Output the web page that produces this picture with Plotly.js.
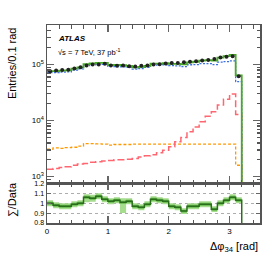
<!DOCTYPE html>
<html><head><meta charset="utf-8">
<script src="https://cdn.plot.ly/plotly-3.0.1.min.js"></script>
<style>html,body{margin:0;padding:0;background:#fff}#chart{width:277px;height:263px}</style>
</head><body><div id="chart"></div>
<script>
const binLow = [0,0.1,0.2,0.3,0.4,0.5,0.6,0.7,0.8,0.9,1.0,1.1,1.2,1.3,1.4,1.5,1.6,1.7,1.8,1.9,2.0,2.1,2.2,2.3,2.4,2.5,2.6,2.7,2.8,2.9,3.0,3.1];
const binWidth = 0.1;
const dataVals = [7.6e4,7.8e4,8.0e4,8.1e4,8.5e4,8.9e4,9.6e4,1.0e5,1.0e5,1.03e5,9.6e4,9.5e4,9.6e4,9.3e4,9.2e4,9.5e4,9.6e4,1.0e5,1.01e5,1.04e5,1.06e5,1.07e5,1.1e5,1.12e5,1.15e5,1.18e5,1.21e5,1.26e5,1.33e5,1.37e5,1.41e5,6.2e4];
const sigmaVals = [7.6e4,7.64e4,7.76e4,7.86e4,8.42e4,8.9e4,1.02e5,1.05e5,1.07e5,1.07e5,9.8e4,9.8e4,9.7e4,9.5e4,8.9e4,9.1e4,9.5e4,1.04e5,1.04e5,1.06e5,1.03e5,1.03e5,1.01e5,1.09e5,1.12e5,1.17e5,1.2e5,1.18e5,1.33e5,1.41e5,1.49e5,6.4e4];
const blueVals = [7.15e4,7.17e4,7.3e4,7.38e4,7.92e4,8.38e4,9.6e4,9.9e4,1.01e5,1.01e5,9.24e4,9.22e4,9.12e4,8.9e4,8.3e4,8.5e4,8.9e4,9.8e4,9.75e4,9.9e4,9.6e4,9.5e4,9.2e4,9.9e4,1.0e5,1.04e5,1.04e5,1.0e5,1.1e5,1.13e5,1.16e5,4.95e4];
const redVals = [1.35e3,1.4e3,1.45e3,1.5e3,1.6e3,1.68e3,1.72e3,1.8e3,1.85e3,1.9e3,1.95e3,2.0e3,2.0e3,2.05e3,2.1e3,2.25e3,2.35e3,2.45e3,2.66e3,2.97e3,3.4e3,4.2e3,5.0e3,6.3e3,7.7e3,9.5e3,1.2e4,1.44e4,1.9e4,2.4e4,2.97e4,1.29e4];
const orangeVals = [3.1e3,3.25e3,3.2e3,3.3e3,3.35e3,3.5e3,3.9e3,3.9e3,3.85e3,3.8e3,3.65e3,3.75e3,3.75e3,3.75e3,3.8e3,3.8e3,3.8e3,3.8e3,3.8e3,3.8e3,3.8e3,3.8e3,3.8e3,3.8e3,3.8e3,3.8e3,3.8e3,3.8e3,3.8e3,3.8e3,3.8e3,1.6e3];
const ratioVals = [1.00,0.98,0.97,0.97,0.99,1.00,1.06,1.05,1.07,1.04,1.02,1.03,1.01,1.02,0.97,0.96,0.99,1.04,1.03,1.02,0.97,0.96,0.92,0.97,0.97,0.99,0.99,0.94,1.00,1.03,1.06,1.03];
const ratioErrHi = [0.03,0.03,0.03,0.03,0.03,0.03,0.03,0.035,0.03,0.03,0.03,0.03,0.04,0.03,0.03,0.03,0.03,0.03,0.03,0.03,0.03,0.03,0.03,0.03,0.03,0.03,0.03,0.03,0.03,0.03,0.03,0.03];
const ratioErrLo = [0.03,0.03,0.03,0.03,0.03,0.03,0.05,0.035,0.03,0.03,0.03,0.03,0.11,0.03,0.03,0.03,0.03,0.03,0.03,0.03,0.03,0.03,0.03,0.03,0.03,0.03,0.03,0.03,0.03,0.03,0.03,0.03];
const ratioErrIn = [0.015,0.015,0.015,0.015,0.015,0.015,0.015,0.015,0.015,0.015,0.015,0.015,0.015,0.015,0.015,0.015,0.015,0.015,0.015,0.015,0.015,0.015,0.015,0.015,0.015,0.015,0.015,0.015,0.015,0.015,0.015,0.015];
const yTickVals = [1e3,1e4,1e5];
const yTickText = ['10<sup>3</sup>','10<sup>4</sup>','10<sup>5</sup>'];
const rTickVals = [0.8,0.9,1,1.1,1.2];
const rTickText = ['0.8','0.9','1','1.1','1.2'];

const lastEdge = binLow[binLow.length-1] + binWidth;
function stepX(drop){ const xs = binLow.slice(); xs.push(lastEdge); if(drop) xs.push(lastEdge); return xs; }
function stepY(v, drop){ const ys = v.slice(); ys.push(v[v.length-1]); if(drop!==undefined) ys.push(drop); return ys; }
const centers = binLow.map(b => b + binWidth/2);

const minorY = [];
for (let e = 2; e <= 5; e++) for (let m = 2; m <= 9; m++) minorY.push(m * Math.pow(10, e));

const traces = [
  {x: stepX(true), y: stepY(orangeVals, 1), mode:'lines', line:{shape:'hv', color:'#ff9900', width:1.3, dash:'3px,2px'}, xaxis:'x', yaxis:'y'},
  {x: stepX(true), y: stepY(redVals, 1), mode:'lines', line:{shape:'hv', color:'#ff6670', width:1.5, dash:'7px,3px'}, xaxis:'x', yaxis:'y'},
  {x: stepX(true), y: stepY(blueVals, 1), mode:'lines', line:{shape:'hv', color:'#3a6fe0', width:1.3, dash:'2px,1.5px'}, xaxis:'x', yaxis:'y'},
  {x: stepX(true), y: stepY(sigmaVals, 1), mode:'lines', line:{shape:'hv', color:'#48a828', width:1.8}, xaxis:'x', yaxis:'y'},
  {x: centers, y: dataVals, mode:'markers', marker:{color:'#222', size:4}, xaxis:'x', yaxis:'y'},
  // ratio bands
  {x: stepX(false), y: stepY(ratioVals.map((r,i)=>r-ratioErrLo[i])), mode:'lines', line:{shape:'hv', width:0, color:'rgba(0,0,0,0)'}, xaxis:'x2', yaxis:'y2'},
  {x: stepX(false), y: stepY(ratioVals.map((r,i)=>r+ratioErrHi[i])), mode:'lines', fill:'tonexty', fillcolor:'#a6dc8e', line:{shape:'hv', width:0, color:'rgba(0,0,0,0)'}, xaxis:'x2', yaxis:'y2'},
  {x: stepX(false), y: stepY(ratioVals.map((r,i)=>r-ratioErrIn[i])), mode:'lines', line:{shape:'hv', width:0, color:'rgba(0,0,0,0)'}, xaxis:'x2', yaxis:'y2'},
  {x: stepX(false), y: stepY(ratioVals.map((r,i)=>r+ratioErrIn[i])), mode:'lines', fill:'tonexty', fillcolor:'#62b84a', line:{shape:'hv', width:0, color:'rgba(0,0,0,0)'}, xaxis:'x2', yaxis:'y2'},
  {x: stepX(true), y: stepY(ratioVals, 0), mode:'lines', line:{shape:'hv', color:'#2a6e1c', width:1.5}, xaxis:'x2', yaxis:'y2'}
];

const frame = {showline:true, linecolor:'#555', linewidth:1.5, mirror:'allticks', zeroline:false, showgrid:false, ticks:'inside', tickcolor:'#666'};
const font = {family:'Liberation Sans, Arial, sans-serif', color:'#000'};

const layout = {
  width:277, height:263,
  margin:{l:47, r:17, t:25, b:40},
  paper_bgcolor:'#fff', plot_bgcolor:'#fff',
  showlegend:false,
  font: Object.assign({size:8}, font),
  xaxis: Object.assign({}, frame, {domain:[0,1], anchor:'y', range:[0,3.5], tickvals:[0,1,2,3], showticklabels:false, ticklen:7, tickwidth:1.5,
      minor:{dtick:0.2, tick0:0, ticks:'inside', ticklen:3.5, tickwidth:1, tickcolor:'#555'}}),
  yaxis: Object.assign({}, frame, {domain:[0.2,1], anchor:'x', type:'log', range:[2.88,5.705], tickvals:yTickVals, ticktext:yTickText, ticklen:7, tickwidth:1.2,
      tickfont:{size:8}, minor:{tickmode:'array', tickvals:minorY, ticks:'inside', ticklen:3.5, tickcolor:'#555'}}),
  xaxis2: Object.assign({}, frame, {domain:[0,1], anchor:'y2', range:[0,3.5], tickvals:[0,1,2,3], ticktext:['0','1','2','3'], ticklen:7, tickwidth:1.5,
      tickfont:{size:8}, minor:{dtick:0.2, tick0:0, ticks:'inside', ticklen:3.5, tickwidth:1, tickcolor:'#555'}}),
  yaxis2: Object.assign({}, frame, {domain:[0,0.2], anchor:'x2', range:[0.8,1.2], tickvals:rTickVals, ticktext:rTickText, ticklen:4,
      tickfont:{size:7}, showgrid:true, gridcolor:'#999', griddash:'dot', gridwidth:0.8}),
  annotations:[
    {xref:'paper', yref:'paper', x:0.042, y:0.934, xanchor:'left', yanchor:'middle', text:'<b><i>ATLAS</i></b>', showarrow:false, font:Object.assign({size:8}, font)},
    {xref:'paper', yref:'paper', x:0.042, y:0.866, xanchor:'left', yanchor:'middle', text:'√s = 7 TeV, 37 pb<sup>-1</sup>', showarrow:false, font:Object.assign({size:7.5}, font)},
    {xref:'paper', yref:'paper', x:-0.164, y:0.808, xanchor:'center', yanchor:'middle', textangle:-90, text:'Entries/0.1 rad', showarrow:false, font:Object.assign({size:11}, font)},
    {xref:'paper', yref:'paper', x:-0.164, y:0.116, xanchor:'center', yanchor:'middle', textangle:-90, text:'∑/Data', showarrow:false, font:Object.assign({size:11}, font)},
    {xref:'paper', yref:'paper', x:1, y:-0.121, xanchor:'right', yanchor:'middle', text:'Δφ<sub>34</sub> [rad]', showarrow:false, font:Object.assign({size:11}, font)}
  ]
};
Plotly.newPlot('chart', traces, layout, {staticPlot:true, displayModeBar:false});
</script></body></html>
